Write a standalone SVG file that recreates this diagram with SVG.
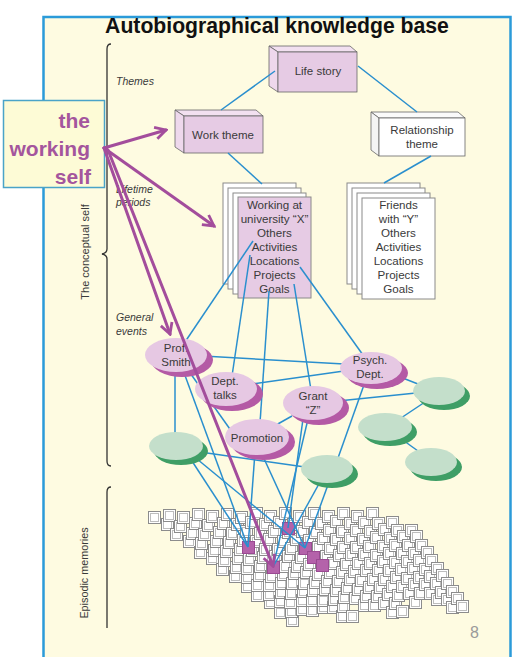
<svg xmlns="http://www.w3.org/2000/svg" width="515" height="657" viewBox="0 0 515 657">
<style>
.t{font-family:"Liberation Sans",Arial,sans-serif;fill:#3a3a3a;}
.lbl{font-size:11.5px;text-anchor:middle;}
.it{font-family:"Liberation Sans",Arial,sans-serif;font-style:italic;font-size:10.5px;fill:#3a3a3a;}
.con{stroke:#2a8fce;stroke-width:1.5;fill:none;}
.pk{fill:#e6c8e3;}
.psh{fill:#b45aa5;}
.gr{fill:#c4dfcb;}
.gsh{fill:#3f9e66;}
.pg{fill:#fff;stroke:#8a8a8a;stroke-width:1;}
.face{stroke:#666;stroke-width:0.8;}
.ws{stroke:#a34d9c;stroke-width:3;fill:none;stroke-linecap:round;}
.br{stroke:#333;stroke-width:1.3;fill:none;}
</style>
<defs>
<marker id="ah" viewBox="0 0 14 14" refX="12" refY="7" markerWidth="15" markerHeight="15" markerUnits="userSpaceOnUse" orient="auto">
<path d="M2,1.5 L12,7 L2,12.5" fill="none" stroke="#a34d9c" stroke-width="2.6" stroke-linejoin="miter"/>
</marker>
<g id="q"><rect x="0.5" y="0.5" width="12" height="12" fill="#fff" stroke="#8c8c8c"/><rect x="2.5" y="2.5" width="8" height="8" fill="#fff" stroke="#bdbdbd"/></g>
<g id="qp"><rect x="0.5" y="0.5" width="12" height="12" fill="#b462aa" stroke="#9a4a92"/></g>
</defs>
<rect x="0" y="0" width="515" height="657" fill="#fff"/>
<rect id="panel" x="43.5" y="17" width="467" height="660" fill="#fefbe1" stroke="#2b9bd9" stroke-width="2.5"/>
<text class="t" x="277" y="33" font-size="21.2" font-weight="bold" text-anchor="middle" style="fill:#111">Autobiographical knowledge base</text>

<g id="brackets">
<path class="br" d="M111,44 Q107,44 107,49 L107,249 Q107,253 102,254 Q107,255 107,259 L107,461 Q107,466 111,466"/>
<path class="br" d="M111,487 Q107,487 107,492 L107,628"/>
<text class="t" font-size="11" text-anchor="middle" transform="translate(89,252) rotate(-90)">The conceptual self</text>
<text class="t" font-size="10.8" text-anchor="middle" transform="translate(88,573) rotate(-90)">Episodic memories</text>
<text class="it" x="116" y="85">Themes</text>
<text class="it" x="116" y="193">Lifetime</text>
<text class="it" x="116" y="206">periods</text>
<text class="it" x="116" y="321">General</text>
<text class="it" x="116" y="335">events</text>
</g>

<g id="life-story">
<polygon class="face" points="269,46 350,46 357,52 278,52" fill="#f2e0f0"/>
<polygon class="face" points="269,46 278,52 278,92 269,86" fill="#eed8ec"/>
<rect class="face" x="278" y="52" width="79" height="40" fill="#e6cbe4"/>
<text class="t lbl" x="318" y="75">Life story</text>
</g>
<g id="work-theme">
<polygon class="face" points="175,110 256,110 263,116 184,116" fill="#f2e0f0"/>
<polygon class="face" points="175,110 184,116 184,153 175,147" fill="#eed8ec"/>
<rect class="face" x="184" y="116" width="79" height="37" fill="#e6cbe4"/>
<text class="t lbl" x="223" y="139">Work theme</text>
</g>
<g id="relationship-theme">
<polygon class="face" points="371,112 458,112 465,118 379,118" fill="#fafafa"/>
<polygon class="face" points="371,112 379,118 379,156 371,150" fill="#f4f4f4"/>
<rect class="face" x="379" y="118" width="86" height="38" fill="#fff"/>
<text class="t lbl" x="422" y="134">Relationship</text>
<text class="t lbl" x="422" y="148">theme</text>
</g>

<g id="working-at-university">
<rect class="pg" x="223" y="183" width="73" height="101"/>
<rect class="pg" x="228" y="188" width="73" height="101"/>
<rect class="pg" x="233" y="193" width="73" height="101"/>
<rect x="238" y="197" width="73" height="101" fill="#e6cbe4" stroke="#8a8a8a"/>
<g class="t" font-size="11.6" text-anchor="middle">
<text x="274.5" y="209">Working at</text>
<text x="274.5" y="223">university “X”</text>
<text x="274.5" y="237">Others</text>
<text x="274.5" y="251">Activities</text>
<text x="274.5" y="265">Locations</text>
<text x="274.5" y="279">Projects</text>
<text x="274.5" y="293">Goals</text>
</g>
</g>
<g id="friends-with-y">
<rect class="pg" x="347" y="183" width="73" height="101"/>
<rect class="pg" x="352" y="188" width="73" height="101"/>
<rect class="pg" x="357" y="193" width="73" height="101"/>
<rect class="pg" x="362" y="198" width="73" height="101"/>
<g class="t" font-size="11.6" text-anchor="middle">
<text x="398.5" y="209">Friends</text>
<text x="398.5" y="223">with “Y”</text>
<text x="398.5" y="237">Others</text>
<text x="398.5" y="251">Activities</text>
<text x="398.5" y="265">Locations</text>
<text x="398.5" y="279">Projects</text>
<text x="398.5" y="293">Goals</text>
</g>
</g>

<g id="episodic-memories">
<use href="#q" x="148" y="511"/><use href="#q" x="161" y="518"/><use href="#q" x="170" y="528"/><use href="#q" x="183" y="535"/><use href="#q" x="194" y="546"/><use href="#q" x="206" y="552"/><use href="#q" x="216" y="563"/><use href="#q" x="229" y="570"/><use href="#q" x="241" y="580"/><use href="#q" x="251" y="589"/><use href="#q" x="264" y="596"/><use href="#q" x="274" y="606"/><use href="#q" x="286" y="614"/>
<use href="#q" x="163" y="509"/><use href="#q" x="174" y="520"/><use href="#q" x="186" y="527"/><use href="#q" x="195" y="537"/><use href="#q" x="208" y="544"/><use href="#q" x="218" y="554"/><use href="#q" x="230" y="561"/><use href="#q" x="241" y="571"/><use href="#q" x="251" y="579"/><use href="#q" x="263" y="588"/><use href="#q" x="274" y="595"/><use href="#q" x="285" y="605"/>
<use href="#q" x="177" y="511"/><use href="#q" x="189" y="517"/><use href="#q" x="198" y="528"/><use href="#q" x="210" y="535"/><use href="#q" x="220" y="545"/><use href="#q" x="232" y="552"/><use href="#q" x="241" y="562"/><use href="#q" x="253" y="569"/><use href="#q" x="263" y="579"/><use href="#q" x="275" y="586"/><use href="#q" x="284" y="596"/><use href="#q" x="296" y="603"/>
<use href="#q" x="192" y="508"/><use href="#q" x="202" y="519"/><use href="#q" x="213" y="526"/><use href="#q" x="223" y="536"/><use href="#q" x="234" y="543"/><use href="#q" x="243" y="553"/><use href="#q" x="254" y="560"/><use href="#q" x="265" y="570"/><use href="#q" x="275" y="577"/><use href="#q" x="285" y="587"/><use href="#q" x="296" y="594"/><use href="#q" x="306" y="604"/>
<use href="#q" x="206" y="510"/><use href="#q" x="217" y="517"/><use href="#q" x="226" y="527"/><use href="#q" x="237" y="534"/><use href="#q" x="246" y="544"/><use href="#q" x="257" y="551"/><use href="#q" x="266" y="561"/><use href="#q" x="277" y="568"/><use href="#q" x="286" y="577"/><use href="#q" x="297" y="585"/><use href="#q" x="306" y="594"/><use href="#q" x="317" y="601"/>
<use href="#q" x="221" y="508"/><use href="#q" x="231" y="518"/><use href="#q" x="240" y="525"/><use href="#q" x="250" y="535"/><use href="#q" x="259" y="543"/><use href="#q" x="269" y="550"/><use href="#q" x="279" y="560"/><use href="#q" x="288" y="567"/><use href="#q" x="298" y="577"/><use href="#q" x="307" y="584"/><use href="#q" x="317" y="594"/><use href="#q" x="327" y="601"/><use href="#q" x="336" y="610"/>
<use href="#q" x="235" y="511"/><use href="#q" x="245" y="516"/><use href="#q" x="254" y="527"/><use href="#q" x="263" y="533"/><use href="#q" x="272" y="543"/><use href="#q" x="282" y="550"/><use href="#q" x="291" y="560"/><use href="#q" x="300" y="566"/><use href="#q" x="309" y="576"/><use href="#q" x="319" y="583"/><use href="#q" x="328" y="593"/><use href="#q" x="337" y="600"/><use href="#q" x="346" y="610"/>
<use href="#q" x="250" y="507"/><use href="#q" x="259" y="518"/><use href="#q" x="268" y="525"/><use href="#q" x="277" y="535"/><use href="#q" x="285" y="542"/><use href="#q" x="295" y="551"/><use href="#q" x="303" y="558"/><use href="#q" x="312" y="568"/><use href="#q" x="321" y="575"/><use href="#q" x="330" y="584"/><use href="#q" x="338" y="591"/>
<use href="#q" x="264" y="510"/><use href="#q" x="273" y="516"/><use href="#q" x="282" y="526"/><use href="#q" x="290" y="533"/><use href="#q" x="298" y="542"/><use href="#q" x="307" y="549"/><use href="#q" x="316" y="559"/><use href="#q" x="324" y="566"/><use href="#q" x="332" y="575"/><use href="#q" x="341" y="582"/><use href="#q" x="349" y="592"/><use href="#q" x="358" y="599"/>
<use href="#q" x="279" y="507"/><use href="#q" x="287" y="518"/><use href="#q" x="296" y="525"/><use href="#q" x="303" y="534"/><use href="#q" x="312" y="541"/><use href="#q" x="320" y="550"/><use href="#q" x="327" y="557"/><use href="#q" x="336" y="566"/><use href="#q" x="344" y="573"/><use href="#q" x="352" y="583"/><use href="#q" x="360" y="590"/><use href="#q" x="368" y="599"/>
<use href="#q" x="293" y="510"/><use href="#q" x="302" y="516"/><use href="#q" x="309" y="526"/><use href="#q" x="317" y="532"/><use href="#q" x="324" y="542"/><use href="#q" x="333" y="549"/><use href="#q" x="340" y="558"/><use href="#q" x="348" y="565"/><use href="#q" x="355" y="574"/><use href="#q" x="363" y="581"/><use href="#q" x="371" y="590"/><use href="#q" x="378" y="597"/><use href="#q" x="386" y="606"/>
<use href="#q" x="308" y="507"/><use href="#q" x="315" y="517"/><use href="#q" x="323" y="524"/><use href="#q" x="330" y="533"/><use href="#q" x="337" y="541"/><use href="#q" x="345" y="548"/><use href="#q" x="352" y="557"/><use href="#q" x="360" y="564"/><use href="#q" x="367" y="573"/><use href="#q" x="374" y="581"/><use href="#q" x="382" y="588"/><use href="#q" x="389" y="597"/><use href="#q" x="396" y="605"/>
<use href="#q" x="322" y="510"/><use href="#q" x="330" y="515"/><use href="#q" x="336" y="525"/><use href="#q" x="344" y="532"/><use href="#q" x="350" y="541"/><use href="#q" x="358" y="548"/><use href="#q" x="364" y="557"/><use href="#q" x="372" y="564"/><use href="#q" x="378" y="573"/><use href="#q" x="386" y="580"/><use href="#q" x="392" y="589"/>
<use href="#q" x="337" y="507"/><use href="#q" x="344" y="517"/><use href="#q" x="350" y="524"/><use href="#q" x="357" y="533"/><use href="#q" x="363" y="540"/><use href="#q" x="370" y="549"/><use href="#q" x="377" y="555"/><use href="#q" x="383" y="564"/><use href="#q" x="390" y="571"/><use href="#q" x="396" y="580"/><use href="#q" x="403" y="587"/><use href="#q" x="409" y="596"/>
<use href="#q" x="351" y="510"/><use href="#q" x="358" y="516"/><use href="#q" x="364" y="525"/><use href="#q" x="370" y="531"/><use href="#q" x="377" y="540"/><use href="#q" x="383" y="547"/><use href="#q" x="389" y="556"/><use href="#q" x="395" y="563"/><use href="#q" x="401" y="572"/><use href="#q" x="408" y="578"/><use href="#q" x="414" y="587"/>
<use href="#q" x="366" y="507"/><use href="#q" x="372" y="517"/><use href="#q" x="378" y="523"/><use href="#q" x="384" y="532"/><use href="#q" x="389" y="539"/><use href="#q" x="396" y="547"/><use href="#q" x="401" y="555"/><use href="#q" x="407" y="562"/><use href="#q" x="413" y="571"/><use href="#q" x="419" y="578"/><use href="#q" x="424" y="587"/><use href="#q" x="431" y="593"/>
<use href="#q" x="386" y="516"/><use href="#q" x="391" y="524"/><use href="#q" x="397" y="530"/><use href="#q" x="402" y="539"/><use href="#q" x="408" y="547"/><use href="#q" x="413" y="554"/><use href="#q" x="419" y="563"/><use href="#q" x="424" y="570"/><use href="#q" x="430" y="577"/><use href="#q" x="435" y="586"/><use href="#q" x="441" y="593"/><use href="#q" x="446" y="601"/>
<use href="#q" x="405" y="524"/><use href="#q" x="410" y="530"/><use href="#q" x="415" y="539"/><use href="#q" x="421" y="546"/><use href="#q" x="425" y="554"/><use href="#q" x="431" y="562"/><use href="#q" x="436" y="569"/><use href="#q" x="441" y="577"/><use href="#q" x="446" y="585"/><use href="#q" x="451" y="592"/><use href="#q" x="456" y="600"/>
<use href="#qp" x="242" y="541"/><use href="#qp" x="267" y="561"/><use href="#qp" x="282" y="522"/><use href="#qp" x="299" y="542"/><use href="#qp" x="307" y="551"/><use href="#qp" x="316" y="559"/>
</g>

<g id="connectors">
<line class="con" x1="275" y1="71" x2="221" y2="110"/>
<line class="con" x1="358" y1="66" x2="417" y2="112"/>
<line class="con" x1="228" y1="153" x2="262" y2="184"/>
<line class="con" x1="431" y1="156" x2="384" y2="183"/>
<line class="con" x1="253" y1="241" x2="185" y2="342"/>
<line class="con" x1="250" y1="255" x2="232" y2="376"/>
<line class="con" x1="269" y1="291" x2="260" y2="423"/>
<line class="con" x1="294" y1="284" x2="311" y2="390"/>
<line class="con" x1="300" y1="267" x2="363" y2="355"/>
<line class="con" x1="203" y1="356" x2="344" y2="364"/>
<line class="con" x1="252" y1="384" x2="344" y2="371"/>
<line class="con" x1="338" y1="401" x2="416" y2="393"/>
<line class="con" x1="395" y1="375" x2="418" y2="384"/>
<line class="con" x1="425" y1="402" x2="401" y2="418"/>
<line class="con" x1="400" y1="438" x2="418" y2="451"/>
<line class="con" x1="365" y1="382" x2="338" y2="458"/>
<line class="con" x1="292" y1="416" x2="276" y2="425"/>
<line class="con" x1="175" y1="370" x2="175" y2="435"/>
<line class="con" x1="188" y1="370" x2="232" y2="432"/>
<line class="con" x1="200" y1="452" x2="305" y2="467"/>
<line class="con" x1="183" y1="370" x2="248" y2="547"/>
<line class="con" x1="190" y1="458" x2="248" y2="547"/>
<line class="con" x1="197" y1="459" x2="305" y2="548"/>
<line class="con" x1="255" y1="452" x2="248" y2="547"/>
<line class="con" x1="261" y1="452" x2="305" y2="548"/>
<line class="con" x1="308" y1="419" x2="273" y2="567"/>
<line class="con" x1="303" y1="419" x2="288" y2="528"/>
<line class="con" x1="320" y1="482" x2="273" y2="567"/>
<line class="con" x1="329" y1="482" x2="305" y2="548"/>
</g>

<g id="prof-smith">
<ellipse class="psh" cx="182" cy="360" rx="31" ry="17"/>
<ellipse class="pk" cx="176" cy="355" rx="31" ry="17"/>
<text class="t lbl" x="176" y="352">Prof.</text>
<text class="t lbl" x="176" y="366">Smith</text>
</g>
<g id="dept-talks">
<ellipse class="psh" cx="232" cy="394" rx="31" ry="17"/>
<ellipse class="pk" cx="226" cy="389" rx="31" ry="17"/>
<text class="t lbl" x="225" y="385">Dept.</text>
<text class="t lbl" x="225" y="399">talks</text>
</g>
<g id="promotion">
<ellipse class="psh" cx="263" cy="442" rx="32" ry="18"/>
<ellipse class="pk" cx="257" cy="437" rx="32" ry="18"/>
<text class="t lbl" x="257" y="442">Promotion</text>
</g>
<g id="grant-z">
<ellipse class="psh" cx="319" cy="408" rx="30" ry="17"/>
<ellipse class="pk" cx="313" cy="403" rx="30" ry="17"/>
<text class="t lbl" x="313" y="400">Grant</text>
<text class="t lbl" x="313" y="414">“Z”</text>
</g>
<g id="psych-dept">
<ellipse class="psh" cx="377" cy="373" rx="31" ry="16"/>
<ellipse class="pk" cx="371" cy="368" rx="31" ry="16"/>
<text class="t lbl" x="370" y="364">Psych.</text>
<text class="t lbl" x="370" y="378">Dept.</text>
</g>
<g id="event-green-1">
<ellipse class="gsh" cx="181" cy="451" rx="27" ry="14"/>
<ellipse class="gr" cx="176" cy="446" rx="27" ry="14"/>
</g>
<g id="event-green-2">
<ellipse class="gsh" cx="444" cy="396" rx="26" ry="14"/>
<ellipse class="gr" cx="439" cy="391" rx="26" ry="14"/>
</g>
<g id="event-green-3">
<ellipse class="gsh" cx="390" cy="432" rx="27" ry="14"/>
<ellipse class="gr" cx="385" cy="427" rx="27" ry="14"/>
</g>
<g id="event-green-4">
<ellipse class="gsh" cx="436" cy="467" rx="26" ry="14"/>
<ellipse class="gr" cx="431" cy="462" rx="26" ry="14"/>
</g>
<g id="event-green-5">
<ellipse class="gsh" cx="332" cy="474" rx="26" ry="14"/>
<ellipse class="gr" cx="327" cy="469" rx="26" ry="14"/>
</g>

<g id="working-self">
<rect x="3.5" y="100.5" width="101" height="87" fill="#fdfbd6" stroke="#4aa3c8" stroke-width="1.5"/>
<g font-family="'Liberation Sans',Arial,sans-serif" font-weight="bold" font-size="21" fill="#a4559d" text-anchor="end">
<text x="90" y="128">the</text>
<text x="90" y="156">working</text>
<text x="91" y="184">self</text>
</g>
</g>
<g id="working-self-arrows">
<line class="ws" x1="104" y1="148" x2="166" y2="130" marker-end="url(#ah)"/>
<line class="ws" x1="104" y1="148" x2="214" y2="226" marker-end="url(#ah)"/>
<line class="ws" x1="104" y1="148" x2="170" y2="334" marker-end="url(#ah)"/>
<line class="ws" x1="108" y1="150" x2="273" y2="566" marker-end="url(#ah)"/>
</g>
<text class="t" x="470" y="638" font-size="16" style="fill:#9a9a9a">8</text>
</svg>
